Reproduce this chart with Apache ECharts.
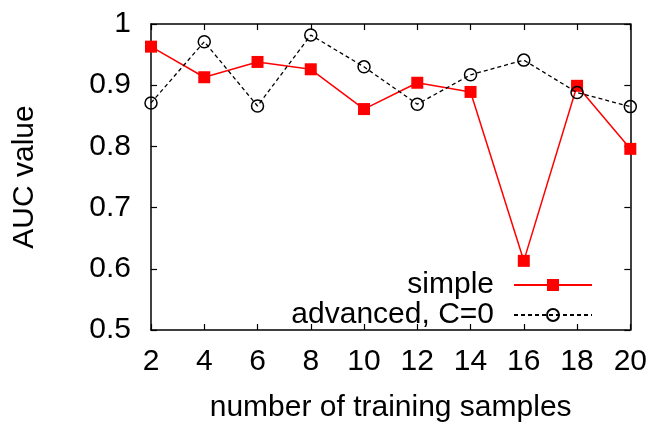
<!DOCTYPE html>
<html>
<head>
<meta charset="utf-8">
<script src="https://cdn.jsdelivr.net/npm/echarts@6/dist/echarts.min.js"></script>
<style>
  html, body { margin: 0; padding: 0; background: #fff; }
  #chart { width: 650px; height: 428px; }
</style>
</head>
<body>
<div id="chart"></div>
<script>
// number of training samples
const samples = [2, 4, 6, 8, 10, 12, 14, 16, 18, 20];
// AUC for the simple model
const simpleAuc = [0.963, 0.913, 0.938, 0.926, 0.861, 0.904, 0.889, 0.613, 0.899, 0.796];
// AUC for the advanced model with C=0
const advancedAuc = [0.871, 0.971, 0.866, 0.982, 0.930, 0.869, 0.917, 0.941, 0.888, 0.865];
// y tick labels
const yTicks = ['0.5', '0.6', '0.7', '0.8', '0.9', '1'];

const FONT = 'Liberation Sans';
const FS = 30;

const pairs = (ys) => samples.map((x, i) => [x, ys[i]]);

const chart = echarts.init(document.getElementById('chart'), null, { renderer: 'canvas' });

const frameAxis = {
  axisLine: { show: true, onZero: false, lineStyle: { color: '#000', width: 1.5 } },
  axisTick: { show: true, inside: true, length: 6, lineStyle: { color: '#000', width: 1.2 } },
  splitLine: { show: false }
};

chart.setOption({
  animation: false,
  backgroundColor: '#fff',
  textStyle: { fontFamily: FONT },
  grid: { left: 151, right: 19, top: 24, bottom: 94, containLabel: false },
  xAxis: [
    Object.assign({
      type: 'value', min: 2, max: 20, interval: 2, position: 'bottom',
      name: 'number of training samples', nameLocation: 'middle', nameGap: 63,
      nameTextStyle: { fontFamily: FONT, fontSize: FS, color: '#000' },
      axisLabel: { fontFamily: FONT, fontSize: FS, color: '#000', margin: 17 }
    }, frameAxis),
    Object.assign({
      type: 'value', min: 2, max: 20, interval: 2, position: 'top',
      axisLabel: { show: false }
    }, frameAxis)
  ],
  yAxis: [
    Object.assign({
      type: 'value', min: 0.5, max: 1, interval: 0.1, position: 'left',
      name: 'AUC value', nameLocation: 'middle', nameGap: 111, nameRotate: 90,
      nameTextStyle: { fontFamily: FONT, fontSize: FS, color: '#000' },
      axisLabel: {
        fontFamily: FONT, fontSize: FS, color: '#000', margin: 20,
        formatter: (v) => yTicks[Math.round((v - 0.5) * 10)]
      }
    }, frameAxis),
    Object.assign({
      type: 'value', min: 0.5, max: 1, interval: 0.1, position: 'right',
      axisLabel: { show: false }
    }, frameAxis)
  ],
  legend: {
    orient: 'vertical',
    right: 52,
    top: 265,
    align: 'right',
    itemWidth: 78,
    itemHeight: 15,
    itemGap: 0,
    textStyle: { fontFamily: FONT, fontSize: FS, color: '#000', lineHeight: 30, padding: [0, 15, 0, 0] },
    data: ['simple', 'advanced, C=0']
  },
  series: [
    {
      name: 'simple',
      type: 'line',
      data: pairs(simpleAuc),
      symbol: 'rect',
      symbolSize: 12,
      lineStyle: { color: '#ff0000', width: 1.5 },
      itemStyle: { color: '#ff0000' },
      z: 2
    },
    {
      name: 'advanced, C=0',
      type: 'line',
      data: pairs(advancedAuc),
      symbol: 'circle',
      symbolSize: 12,
      lineStyle: { color: '#000', width: 1.3, type: [4, 3] },
      itemStyle: { color: 'rgba(0,0,0,0)', borderColor: '#000', borderWidth: 1.5 },
      z: 3
    }
  ]
});
</script>
</body>
</html>
